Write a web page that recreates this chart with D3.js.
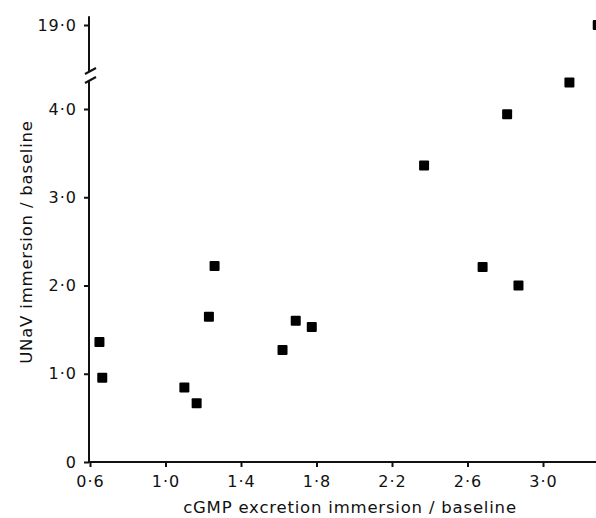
<!DOCTYPE html>
<html>
<head>
<meta charset="utf-8">
<script src="https://cdn.jsdelivr.net/npm/d3@7"></script>
<style>
  body { margin: 0; background: #fff; }
  text { font-family: "DejaVu Sans", sans-serif; fill: #111; }
</style>
</head>
<body>
<script>
// cGMP excretion ratio vs UNaV ratio
var cgmp = [0.65, 0.665, 1.10, 1.165, 1.23, 1.26, 1.62, 1.69, 1.775, 2.37, 2.68, 2.81, 2.87, 3.14, 3.29];
var unav = [1.36, 0.955, 0.845, 0.665, 1.645, 2.22, 1.27, 1.60, 1.53, 3.36, 2.21, 3.94, 2.00, 4.30, 19.0];
var xTicks = [0.6, 1.0, 1.4, 1.8, 2.2, 2.6, 3.0];
var yTicksLow = [0, 1, 2, 3, 4];
var yTicksHigh = [19];

var W = 596, H = 518;
var svg = d3.select("body").append("svg")
            .attr("width", W)
            .attr("height", H);

var x = d3.scaleLinear().domain([0.6, 3.0]).range([90, 543]);
var yLow = d3.scaleLinear().domain([0, 4]).range([462, 109]);
var yHigh = d3.scaleLinear().domain([18, 19]).range([25 + 88.3, 25]);
function y(v) { return v > 10 ? yHigh(v) : yLow(v); }

function fmt(d) { return d === 0 ? "0" : d3.format(".1f")(d).replace(".", "\u00b7"); }

var axisX = 89;

// y axis, lower part
var gyl = svg.append("g").attr("transform", "translate(" + axisX + ",0)")
    .call(d3.axisLeft(yLow).tickValues(yTicksLow).tickFormat(fmt).tickSize(5).tickPadding(7));
// y axis, upper part
var gyh = svg.append("g").attr("transform", "translate(" + axisX + ",0)")
    .call(d3.axisLeft(yHigh).tickValues(yTicksHigh).tickFormat(fmt).tickSize(5).tickPadding(7));
[gyl, gyh].forEach(function (g) {
  g.select(".domain").remove();
  g.selectAll("line").attr("stroke", "#111").attr("stroke-width", 2);
  g.selectAll("text").style("font-size", "16px").style("letter-spacing", "1px").attr("fill", "#111");
});

// axis line with break
svg.append("line").attr("x1", axisX).attr("x2", axisX)
   .attr("y1", yHigh(19.1)).attr("y2", 71)
   .attr("stroke", "#111").attr("stroke-width", 2);
svg.append("line").attr("x1", axisX).attr("x2", axisX)
   .attr("y1", 80).attr("y2", yLow(0) + 1)
   .attr("stroke", "#111").attr("stroke-width", 2);
[[74, 68], [83, 77]].forEach(function (s) {
  svg.append("line").attr("x1", axisX - 4).attr("x2", axisX + 7)
     .attr("y1", s[0]).attr("y2", s[1])
     .attr("stroke", "#111").attr("stroke-width", 2);
});

// x axis
var gx = svg.append("g").attr("transform", "translate(0," + yLow(0) + ")")
    .call(d3.axisBottom(x).tickValues(xTicks).tickFormat(fmt).tickSize(5).tickPadding(9));
gx.select(".domain").remove();
gx.selectAll("line").attr("stroke", "#111").attr("stroke-width", 2);
gx.selectAll("text").style("font-size", "16px").style("letter-spacing", "1px").attr("fill", "#111");
svg.append("line").attr("x1", axisX - 1).attr("x2", W)
   .attr("y1", yLow(0)).attr("y2", yLow(0))
   .attr("stroke", "#111").attr("stroke-width", 2);

// points
svg.append("g").selectAll("rect")
   .data(d3.range(cgmp.length))
   .enter().append("rect")
     .attr("x", function (i) { return x(cgmp[i]) - 5; })
     .attr("y", function (i) { return y(unav[i]) - 5; })
     .attr("width", 10)
     .attr("height", 10)
     .attr("rx", 1)
     .attr("fill", "#000");

// titles
svg.append("text")
   .attr("x", 350).attr("y", 513)
   .attr("text-anchor", "middle")
   .style("font-size", "16.5px")
   .style("letter-spacing", "0.8px")
   .text("cGMP excretion immersion / baseline");
svg.append("text")
   .attr("transform", "translate(32,242) rotate(-90)")
   .attr("text-anchor", "middle")
   .style("font-size", "16.5px")
   .style("letter-spacing", "0.8px")
   .text("UNaV immersion / baseline");
</script>
</body>
</html>
